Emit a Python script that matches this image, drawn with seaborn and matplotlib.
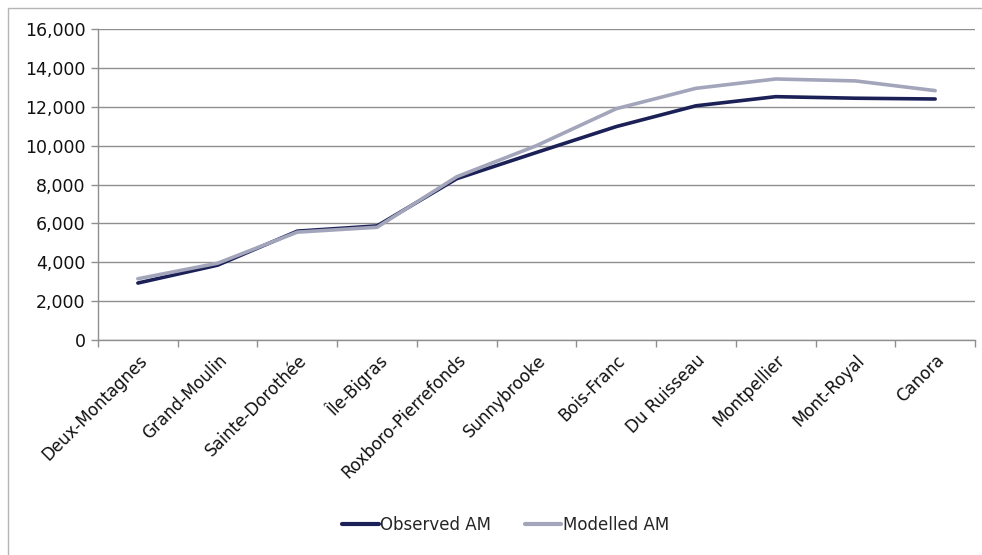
import matplotlib
matplotlib.use("Agg")
import matplotlib.pyplot as plt
import seaborn as sns
import pandas as pd
from matplotlib.ticker import FuncFormatter, FixedLocator
from matplotlib.patches import Rectangle

stations = ["Deux-Montagnes", "Grand-Moulin", "Sainte-Dorothée", "Île-Bigras",
            "Roxboro-Pierrefonds", "Sunnybrooke", "Bois-Franc", "Du Ruisseau",
            "Montpellier", "Mont-Royal", "Canora"]
observed_am = [2930, 3850, 5600, 5870, 8300, 9650, 10980, 12050, 12520, 12440, 12400]
modelled_am = [3150, 3950, 5550, 5800, 8400, 10000, 11900, 12950, 13430, 13330, 12830]
series_names = ["Observed AM", "Modelled AM"]
y_ticks = [0, 2000, 4000, 6000, 8000, 10000, 12000, 14000, 16000]

df = pd.DataFrame({
    "Station": stations * 2,
    "Boardings": observed_am + modelled_am,
    "Series": [series_names[0]] * len(stations) + [series_names[1]] * len(stations),
})

sns.set_theme(style="white")
plt.rcParams["font.family"] = ["DejaVu Sans"]

fig = plt.figure(figsize=(9.82, 5.55), dpi=100)
ax = fig.add_axes([0.0998, 0.3874, 0.8931, 0.5603])

palette = {series_names[0]: "#1b2157", series_names[1]: "#a3a5bb"}
sns.lineplot(data=df, x="Station", y="Boardings", hue="Series", palette=palette,
             linewidth=2.6, sort=False, ax=ax, legend=True)

ax.set_xlim(-0.5, len(stations) - 0.5)
ax.set_ylim(0, 16000)
ax.set_yticks(y_ticks)
ax.yaxis.set_major_formatter(FuncFormatter(lambda v, p: f"{int(v):,}"))
ax.grid(axis="y", color="#8f8f8f", linewidth=1.0)
ax.set_axisbelow(True)
ax.set_xlabel("")
ax.set_ylabel("")

for s in ["top", "right"]:
    ax.spines[s].set_visible(False)
for s in ["left", "bottom"]:
    ax.spines[s].set_color("#8f8f8f")
    ax.spines[s].set_linewidth(1.0)

ax.set_xticks(range(len(stations)))
ax.set_xticklabels(stations, rotation=45, ha="right", rotation_mode="anchor",
                   fontsize=12, color="#111111")
ax.tick_params(axis="x", which="major", length=0, pad=8)
ax.xaxis.set_minor_locator(FixedLocator([i - 0.5 for i in range(len(stations) + 1)]))
ax.tick_params(axis="x", which="minor", length=5, color="#8f8f8f", width=1, direction="out", bottom=True)
ax.tick_params(axis="y", length=5, color="#8f8f8f", width=1, direction="out", left=True,
               labelsize=12.5, labelcolor="#111111", pad=4)

handles, labels = ax.get_legend_handles_labels()
ax.legend_.remove()
leg = fig.legend(handles, labels, loc="center", bbox_to_anchor=(0.515, 0.054), ncol=2,
                 frameon=False, fontsize=12, handlelength=2.2, handletextpad=0.1,
                 columnspacing=2.0)
for line in leg.get_lines():
    line.set_linewidth(3)

fig.patches.append(Rectangle((8 / 982, -0.01), 1.02, 1 - 8 / 555 + 0.01, transform=fig.transFigure,
                             fill=False, edgecolor="#b5b5b5", linewidth=1.0))

fig.savefig("out.png", dpi=100)
